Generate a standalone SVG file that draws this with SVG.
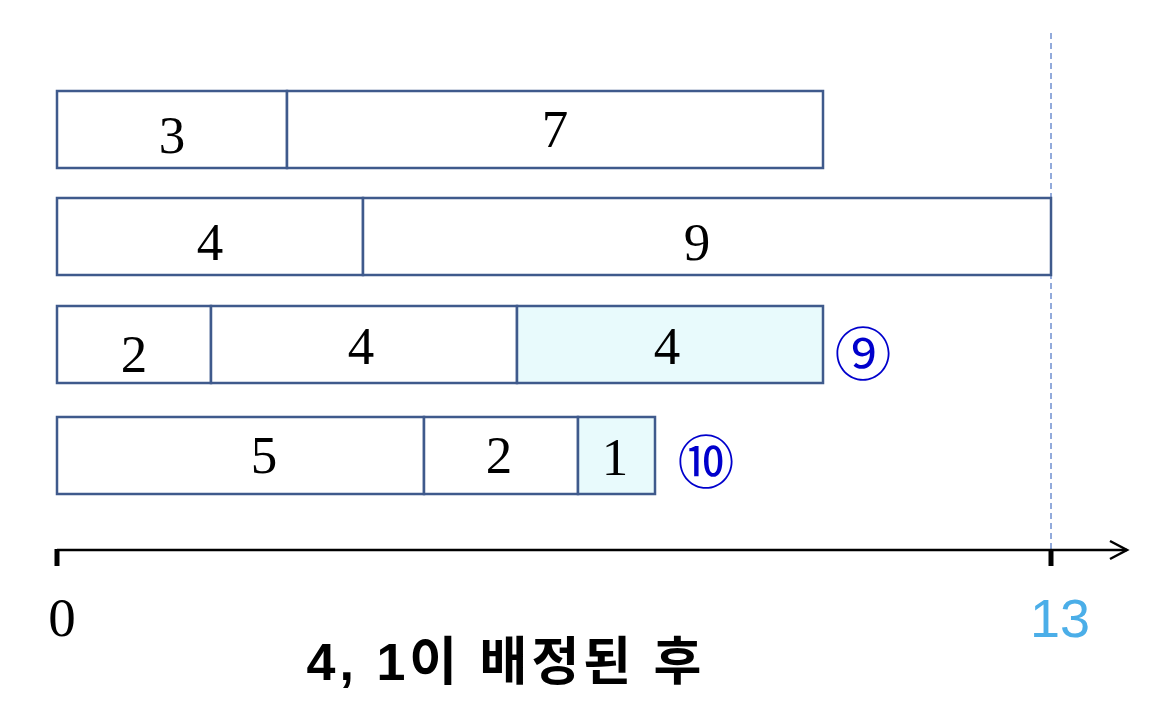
<svg xmlns="http://www.w3.org/2000/svg" width="1154" height="720" viewBox="0 0 1154 720">
<style>
.box{fill:#ffffff;stroke:#3F5A8C;stroke-width:2.5}
.hl{fill:#E8FAFC}
.num{font-family:"Liberation Serif","DejaVu Serif",serif;font-size:53px;fill:#000;text-anchor:middle}
.circ{font-family:"Noto Sans CJK KR","DejaVu Sans",sans-serif;font-size:57px;fill:#0000CC;text-anchor:middle}
</style>
<rect width="1154" height="720" fill="#ffffff"/>
<g id="connectors">
<line x1="1051" y1="33" x2="1051" y2="550" stroke="#6F8FD0" stroke-width="1.5" stroke-dasharray="6,4"/>
<line x1="57" y1="550" x2="1127" y2="550" stroke="#000" stroke-width="2.5"/>
<polyline points="1110,541 1127,550 1110,559" fill="none" stroke="#000" stroke-width="2.5"/>
<line x1="57" y1="549" x2="57" y2="566" stroke="#000" stroke-width="5"/>
<line x1="1051" y1="549" x2="1051" y2="566" stroke="#000" stroke-width="5"/>
</g>
<g id="row1">
<rect class="box" x="57" y="91" width="230" height="77"/>
<text class="num" x="172" y="153">3</text>
<rect class="box" x="287" y="91" width="536" height="77"/>
<text class="num" x="555" y="147">7</text>
</g>
<g id="row2">
<rect class="box" x="57" y="198" width="306" height="77"/>
<text class="num" x="210" y="260">4</text>
<rect class="box" x="363" y="198" width="688" height="77"/>
<text class="num" x="697" y="260">9</text>
</g>
<g id="row3">
<rect class="box" x="57" y="306" width="154" height="77"/>
<text class="num" x="134" y="372">2</text>
<rect class="box" x="211" y="306" width="306" height="77"/>
<text class="num" x="361" y="364">4</text>
<rect class="box hl" x="517" y="306" width="306" height="77"/>
<text class="num" x="667" y="364">4</text>
</g>
<g id="circ9"><text class="circ" x="863" y="375">⑨</text></g>
<g id="row4">
<rect class="box" x="57" y="417" width="367" height="77"/>
<text class="num" x="264" y="473">5</text>
<rect class="box" x="424" y="417" width="154" height="77"/>
<text class="num" x="499" y="473">2</text>
<rect class="box hl" x="578" y="417" width="77" height="77"/>
<text class="num" x="615" y="475">1</text>
</g>
<g id="circ10"><text class="circ" x="706" y="483">⑩</text></g>
<g id="labels">
<text x="62" y="636" font-family="Liberation Serif, DejaVu Serif, serif" font-size="55" text-anchor="middle">0</text>
<text x="1060" y="637" font-family="Liberation Sans, Arial, sans-serif" font-size="54" fill="#4BAEE8" text-anchor="middle">13</text>
<text x="506" y="680" font-family="Liberation Sans, Noto Sans CJK KR, sans-serif" font-weight="bold" font-size="52" letter-spacing="4" text-anchor="middle">4, 1이 배정된 후</text>
</g>
</svg>
